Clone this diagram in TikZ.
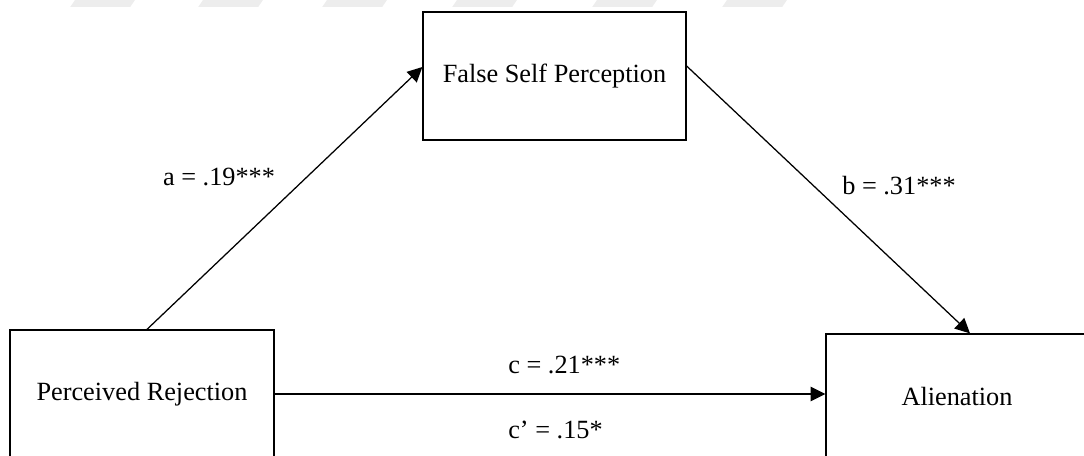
\documentclass[tikz,border=0pt]{standalone}
\usepackage{fontspec}
\setmainfont{Liberation Serif}
\usetikzlibrary{arrows.meta}

\begin{document}
\begin{tikzpicture}[font=\fontsize{18.7}{22}\selectfont,
  varbox/.style={draw,line width=0.9pt,minimum height=3.2cm,inner sep=0pt},
  effect/.style={line width=0.9pt,-{Triangle[length=0.37cm,width=0.36cm]}},
  coef/.style={inner sep=0pt}]
  \useasboundingbox (0,0) rectangle (27.1,11.4);
  \foreach \x in {1.875,5.075,8.175,11.425,14.925,18.175}{\fill[black!7] (\x,11.4)--++(1.5,0)--++(-0.12,-0.175)--++(-1.5,0)--cycle;}
  \node[varbox,minimum width=6.575cm] (fsp) at (13.8625,9.5) {False Self Perception};
  \node[varbox,minimum width=6.6cm] (rej) at (3.55,1.55) {Perceived Rejection};
  \node[varbox,minimum width=6.55cm,minimum height=3.15cm] (ali) at (23.925,1.475) {Alienation};
  \draw[effect] ([xshift=.125cm]rej.north) -- ([yshift=.225cm]fsp.west);
  \draw[effect] ([yshift=.25cm]fsp.east) -- ([xshift=.325cm]ali.north);
  \draw[effect] (rej.east) -- (rej.east -| ali.west);
  \node[coef] (ca) at (5.475,6.975) {a = .19***};
  \node[coef] (cb) at (22.475,6.75) {b = .31***};
  \node[coef,anchor=west] (cc) at (12.7,2.275) {c = .21***};
  \node[coef,anchor=west] (ccp) at (12.7,0.65) {c’ = .15*};
\end{tikzpicture}
\end{document}
